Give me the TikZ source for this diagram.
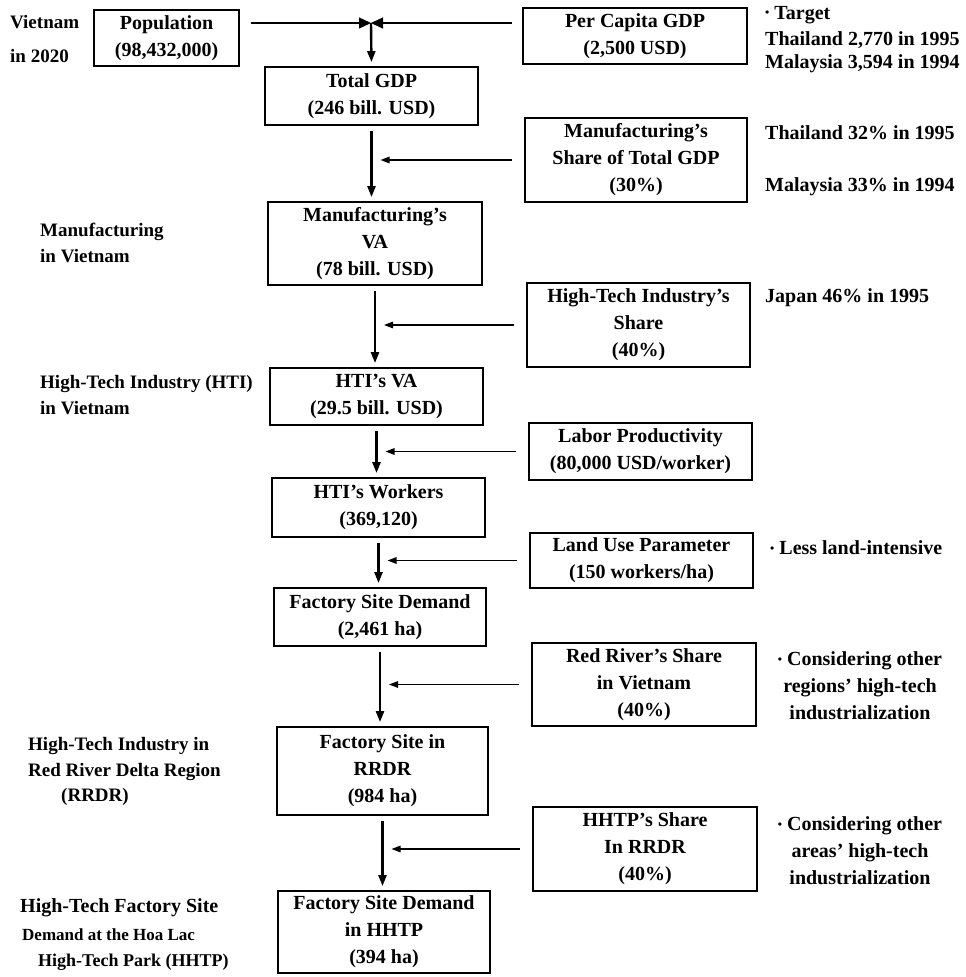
\documentclass[tikz,border=0pt]{standalone}
\usepackage{fontspec}
\setmainfont{Liberation Serif}
\usetikzlibrary{arrows.meta}
\newcommand\dotmark{\raisebox{2.5pt}{\fontsize{12}{12}\selectfont •}}
\begin{document}
\begin{tikzpicture}[x=1pt,y=-1pt,
  box/.style={draw, line width=1.8pt, align=center, inner sep=0pt,
    font=\bfseries\fontsize{20}{27}\selectfont},
  lbl/.style={anchor=west, inner sep=0pt, align=left,
    font=\bfseries\fontsize{19}{26}\selectfont},
  note/.style={anchor=west, inner sep=0pt, font=\bfseries\fontsize{20}{27}\selectfont},
  notec/.style={inner sep=0pt, align=center, font=\bfseries\fontsize{20}{27}\selectfont},
  flow/.style={line width=2.4pt, -{Triangle[length=11pt,width=8pt]},
    shorten >=4pt, shorten <=5pt},
  feed/.style={line width=1.3pt, -{Triangle[length=9pt,width=6.5pt]}},
  meet/.style={line width=1.3pt, -{Triangle[length=12pt,width=11pt]}},
]
\useasboundingbox (0,0) rectangle (966,977);

% main chain
\node[box, minimum width=145pt, minimum height=56pt] (pop)   at (166.5,38)  {Population\\(98,432,000)};
\node[box, minimum width=213pt, minimum height=58pt] (tgdp)  at (371.5,96)  {Total GDP\\(246 bill. USD)};
\node[box, minimum width=214pt, minimum height=83pt] (mva)   at (375,243.5) {Manufacturing's\\VA\\(78 bill. USD)};
\node[box, minimum width=213pt, minimum height=57pt] (htiva) at (376.5,396.5) {HTI's VA\\(29.5 bill. USD)};
\node[box, minimum width=213pt, minimum height=59pt] (wrk)   at (378.5,507.5) {HTI's Workers\\(369,120)};
\node[box, minimum width=212pt, minimum height=58pt] (fsd)   at (380,617)   {Factory Site Demand\\(2,461 ha)};
\node[box, minimum width=211pt, minimum height=88pt] (rrdr)  at (382.5,771) {Factory Site in\\RRDR\\(984 ha)};
\node[box, minimum width=212pt, minimum height=82pt] (hhtp)  at (384,932)   {Factory Site Demand\\in HHTP\\(394 ha)};

% parameters
\node[box, minimum width=224pt, minimum height=56pt] (pcg)   at (635,36)    {Per Capita GDP\\(2,500 USD)};
\node[box, minimum width=222pt, minimum height=84pt] (msh)   at (636,160)   {Manufacturing's\\Share of Total GDP\\(30\%)};
\node[box, minimum width=223pt, minimum height=84pt] (hsh)   at (638.5,325) {High-Tech Industry's\\Share\\(40\%)};
\node[box, minimum width=223pt, minimum height=57pt] (lab)   at (640.5,451.5) {Labor Productivity\\(80,000 USD/worker)};
\node[box, minimum width=223pt, minimum height=55pt] (land)  at (641.5,560.5) {Land Use Parameter\\(150 workers/ha)};
\node[box, minimum width=224pt, minimum height=83pt] (rrs)   at (644,684.5) {Red River's Share\\in Vietnam\\(40\%)};
\node[box, minimum width=224pt, minimum height=84pt] (hhs)   at (645,849)   {HHTP's Share\\In RRDR\\(40\%)};

% top junction: population and per-capita GDP meet, then feed total GDP
\coordinate (jn) at (371,23);
\draw[meet] ([xshift=11pt]pop.east |- jn) -- (jn);
\draw[meet] ([xshift=-10pt]pcg.west |- jn) -- (jn);
\draw[flow, shorten <=0pt] (jn) -- (tgdp.north);

% vertical flow
\draw[flow] (tgdp.south) -- (tgdp.south |- mva.north);
\draw[flow] (mva.south)  -- (mva.south |- htiva.north);
\draw[flow] (htiva.south) -- (htiva.south |- wrk.north);
\draw[flow] (wrk.south)  -- (wrk.south |- fsd.north);
\draw[flow] (fsd.south)  -- (fsd.south |- rrdr.north);
\draw[flow] (rrdr.south) -- (rrdr.south |- hhtp.north);

% parameter inputs
\draw[feed] ([xshift=-12pt]msh.west)  -- ([xshift=9pt]msh.west -| tgdp.south);
\draw[feed] ([xshift=-12pt]hsh.west)  -- ([xshift=9pt]hsh.west -| mva.south);
\draw[feed] ([xshift=-12pt]lab.west)  -- ([xshift=9pt]lab.west -| htiva.south);
\draw[feed] ([xshift=-12pt]land.west) -- ([xshift=9pt]land.west -| wrk.south);
\draw[feed] ([xshift=-12pt]rrs.west)  -- ([xshift=9pt]rrs.west -| fsd.south);
\draw[feed] ([xshift=-12pt]hhs.west)  -- ([xshift=9pt]hhs.west -| rrdr.south);

% left labels
\node[lbl] (l1a) at (10,22)  {Vietnam};
\node[lbl] (l1b) at (10,56)  {in 2020};
\node[lbl] (l2)  at (40,243) {Manufacturing\\in Vietnam};
\node[lbl] (l3)  at (40,395) {High-Tech Industry (HTI)\\in Vietnam};
\node[lbl] (l4)  at (28,759) {High-Tech Industry in\\Red River Delta Region};
\node[inner sep=0pt, font=\bfseries\fontsize{19}{26}\selectfont] (l4c) at (95,797) {(RRDR)};
\node[inner sep=0pt, anchor=west, font=\bfseries\fontsize{20}{27}\selectfont] (l5a) at (20,908) {High-Tech Factory Site};
\node[inner sep=0pt, anchor=west, font=\bfseries\fontsize{17}{27}\selectfont] (l5b) at (22,935) {Demand at the Hoa Lac};
\node[inner sep=0pt, anchor=west, font=\bfseries\fontsize{18}{27}\selectfont] (l5c) at (38,962) {High-Tech Park (HHTP)};

% right notes
\node[note] (n1) at (765,15) {\dotmark{} Target};
\node[note] (n2) at (765,40) {Thailand 2,770 in 1995};
\node[note] (n3) at (765,64) {Malaysia 3,594 in 1994};
\node[note] (n4) at (765,133) {Thailand 32\% in 1995};
\node[note] (n5) at (765,187) {Malaysia 33\% in 1994};
\node[note] (n6) at (765,298) {Japan 46\% in 1995};
\node[note] (n7) at (770,548) {\dotmark{} Less land-intensive};
\node[notec] (n8) at (860,686) {\dotmark{} Considering other\\regions' high-tech\\industrialization};
\node[notec] (n9) at (860,851) {\dotmark{} Considering other\\areas' high-tech\\industrialization};
\end{tikzpicture}
\end{document}
